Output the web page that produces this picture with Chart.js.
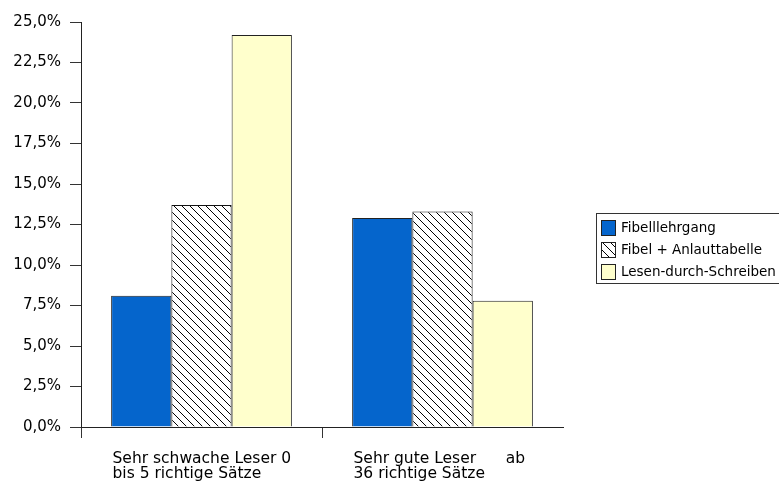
<!DOCTYPE html>
<html>
<head>
<meta charset="utf-8">
<script src="https://cdn.jsdelivr.net/npm/chart.js@4/dist/chart.umd.min.js"></script>
<style>
  html, body { margin: 0; padding: 0; background: #fff; }
  #wrap { width: 779px; height: 484px; position: relative; }
</style>
</head>
<body>
<div id="wrap"><canvas id="leserChart" width="779" height="484"></canvas></div>
<script>
var categories = [
    ['Sehr schwache Leser 0', 'bis 5 richtige Sätze'],
    ['Sehr gute Leser      ab', '36 richtige Sätze']
]
var seriesNames = ['Fibelllehrgang', 'Fibel + Anlauttabelle', 'Lesen-durch-Schreiben']
var fibel = [8.1, 12.9]
var fibelAnlaut = [13.7, 13.3]
var ldS = [24.2, 7.8]
var yTicks = [0, 2.5, 5, 7.5, 10, 12.5, 15, 17.5, 20, 22.5, 25]

var fontFamily = '"DejaVu Sans", Verdana, sans-serif'

// diagonal hatch for the second series
function makeHatch() {
    var c = document.createElement('canvas')
    c.width = 8
    c.height = 8
    var g = c.getContext('2d')
    g.fillStyle = '#fff'
    g.fillRect(0, 0, 8, 8)
    g.strokeStyle = '#000'
    g.lineWidth = 1
    g.beginPath()
    g.moveTo(-1, -1); g.lineTo(9, 9)
    g.moveTo(-1, 7); g.lineTo(1, 9)
    g.moveTo(7, -1); g.lineTo(9, 1)
    g.stroke()
    return g.createPattern(c, 'repeat')
}
var hatch = makeHatch()

// framed legend to the right of the plot
var boxLegend = {
    id: 'boxLegend',
    afterDraw: function (chart) {
        var ctx = chart.ctx
        var x0 = 596.5, y0 = 213.5, w = 184, h = 70
        ctx.save()
        ctx.fillStyle = '#fff'
        ctx.fillRect(x0, y0, w, h)
        ctx.strokeStyle = '#333'
        ctx.lineWidth = 1
        ctx.strokeRect(x0, y0, w, h)
        ctx.font = '13.5px ' + fontFamily
        ctx.textBaseline = 'middle'
        chart.data.datasets.forEach(function (ds, i) {
            var cy = 228 + i * 22
            ctx.fillStyle = ds.backgroundColor
            ctx.fillRect(601.5, cy - 7.5, 14, 15)
            ctx.strokeStyle = '#222'
            ctx.strokeRect(601.5, cy - 7.5, 14, 15)
            ctx.fillStyle = '#000'
            ctx.fillText(ds.label, 621, cy + 0.5)
        })
        ctx.restore()
    }
}

new Chart(document.getElementById('leserChart'), {
    type: 'bar',
    data: {
        labels: categories,
        datasets: [
            { label: seriesNames[0], data: fibel, backgroundColor: '#0565CC', borderColor: '#222', borderWidth: 1 },
            { label: seriesNames[1], data: fibelAnlaut, backgroundColor: hatch, borderColor: '#111', borderWidth: 1 },
            { label: seriesNames[2], data: ldS, backgroundColor: '#FFFFCC', borderColor: '#222', borderWidth: 1 }
        ]
    },
    options: {
        responsive: false,
        animation: false,
        layout: { padding: { top: 22, right: 216, bottom: 0, left: 0 } },
        datasets: { bar: { barPercentage: 1, categoryPercentage: 0.75, borderSkipped: 'start' } },
        scales: {
            x: {
                grid: {
                    drawOnChartArea: false,
                    tickLength: 11,
                    // no tick mark at the right end of the axis
                    color: function (c) { return c.type === 'tick' ? '#333' : 'rgba(0,0,0,0)' }
                },
                border: { color: '#222', width: 1 },
                ticks: {
                    align: 'start',
                    labelOffset: -89,
                    padding: 13,
                    color: '#000',
                    font: { family: fontFamily, size: 15.5, lineHeight: 0.97 },
                    maxRotation: 0
                },
                afterFit: function (scale) { scale.height = 57 }
            },
            y: {
                min: 0,
                max: 25,
                afterBuildTicks: function (scale) {
                    scale.ticks = yTicks.map(function (v) { return { value: v } })
                },
                grid: { drawOnChartArea: false, tickLength: 11, color: '#333' },
                border: { color: '#222', width: 1 },
                ticks: {
                    padding: 9,
                    color: '#000',
                    font: { family: fontFamily, size: 15 },
                    callback: function (v) { return Number(v).toFixed(1).replace('.', ',') + '%' }
                },
                afterFit: function (scale) { scale.width = 81 }
            }
        },
        plugins: {
            legend: { display: false },
            tooltip: { enabled: false }
        }
    },
    plugins: [boxLegend]
})
</script>
</body>
</html>
